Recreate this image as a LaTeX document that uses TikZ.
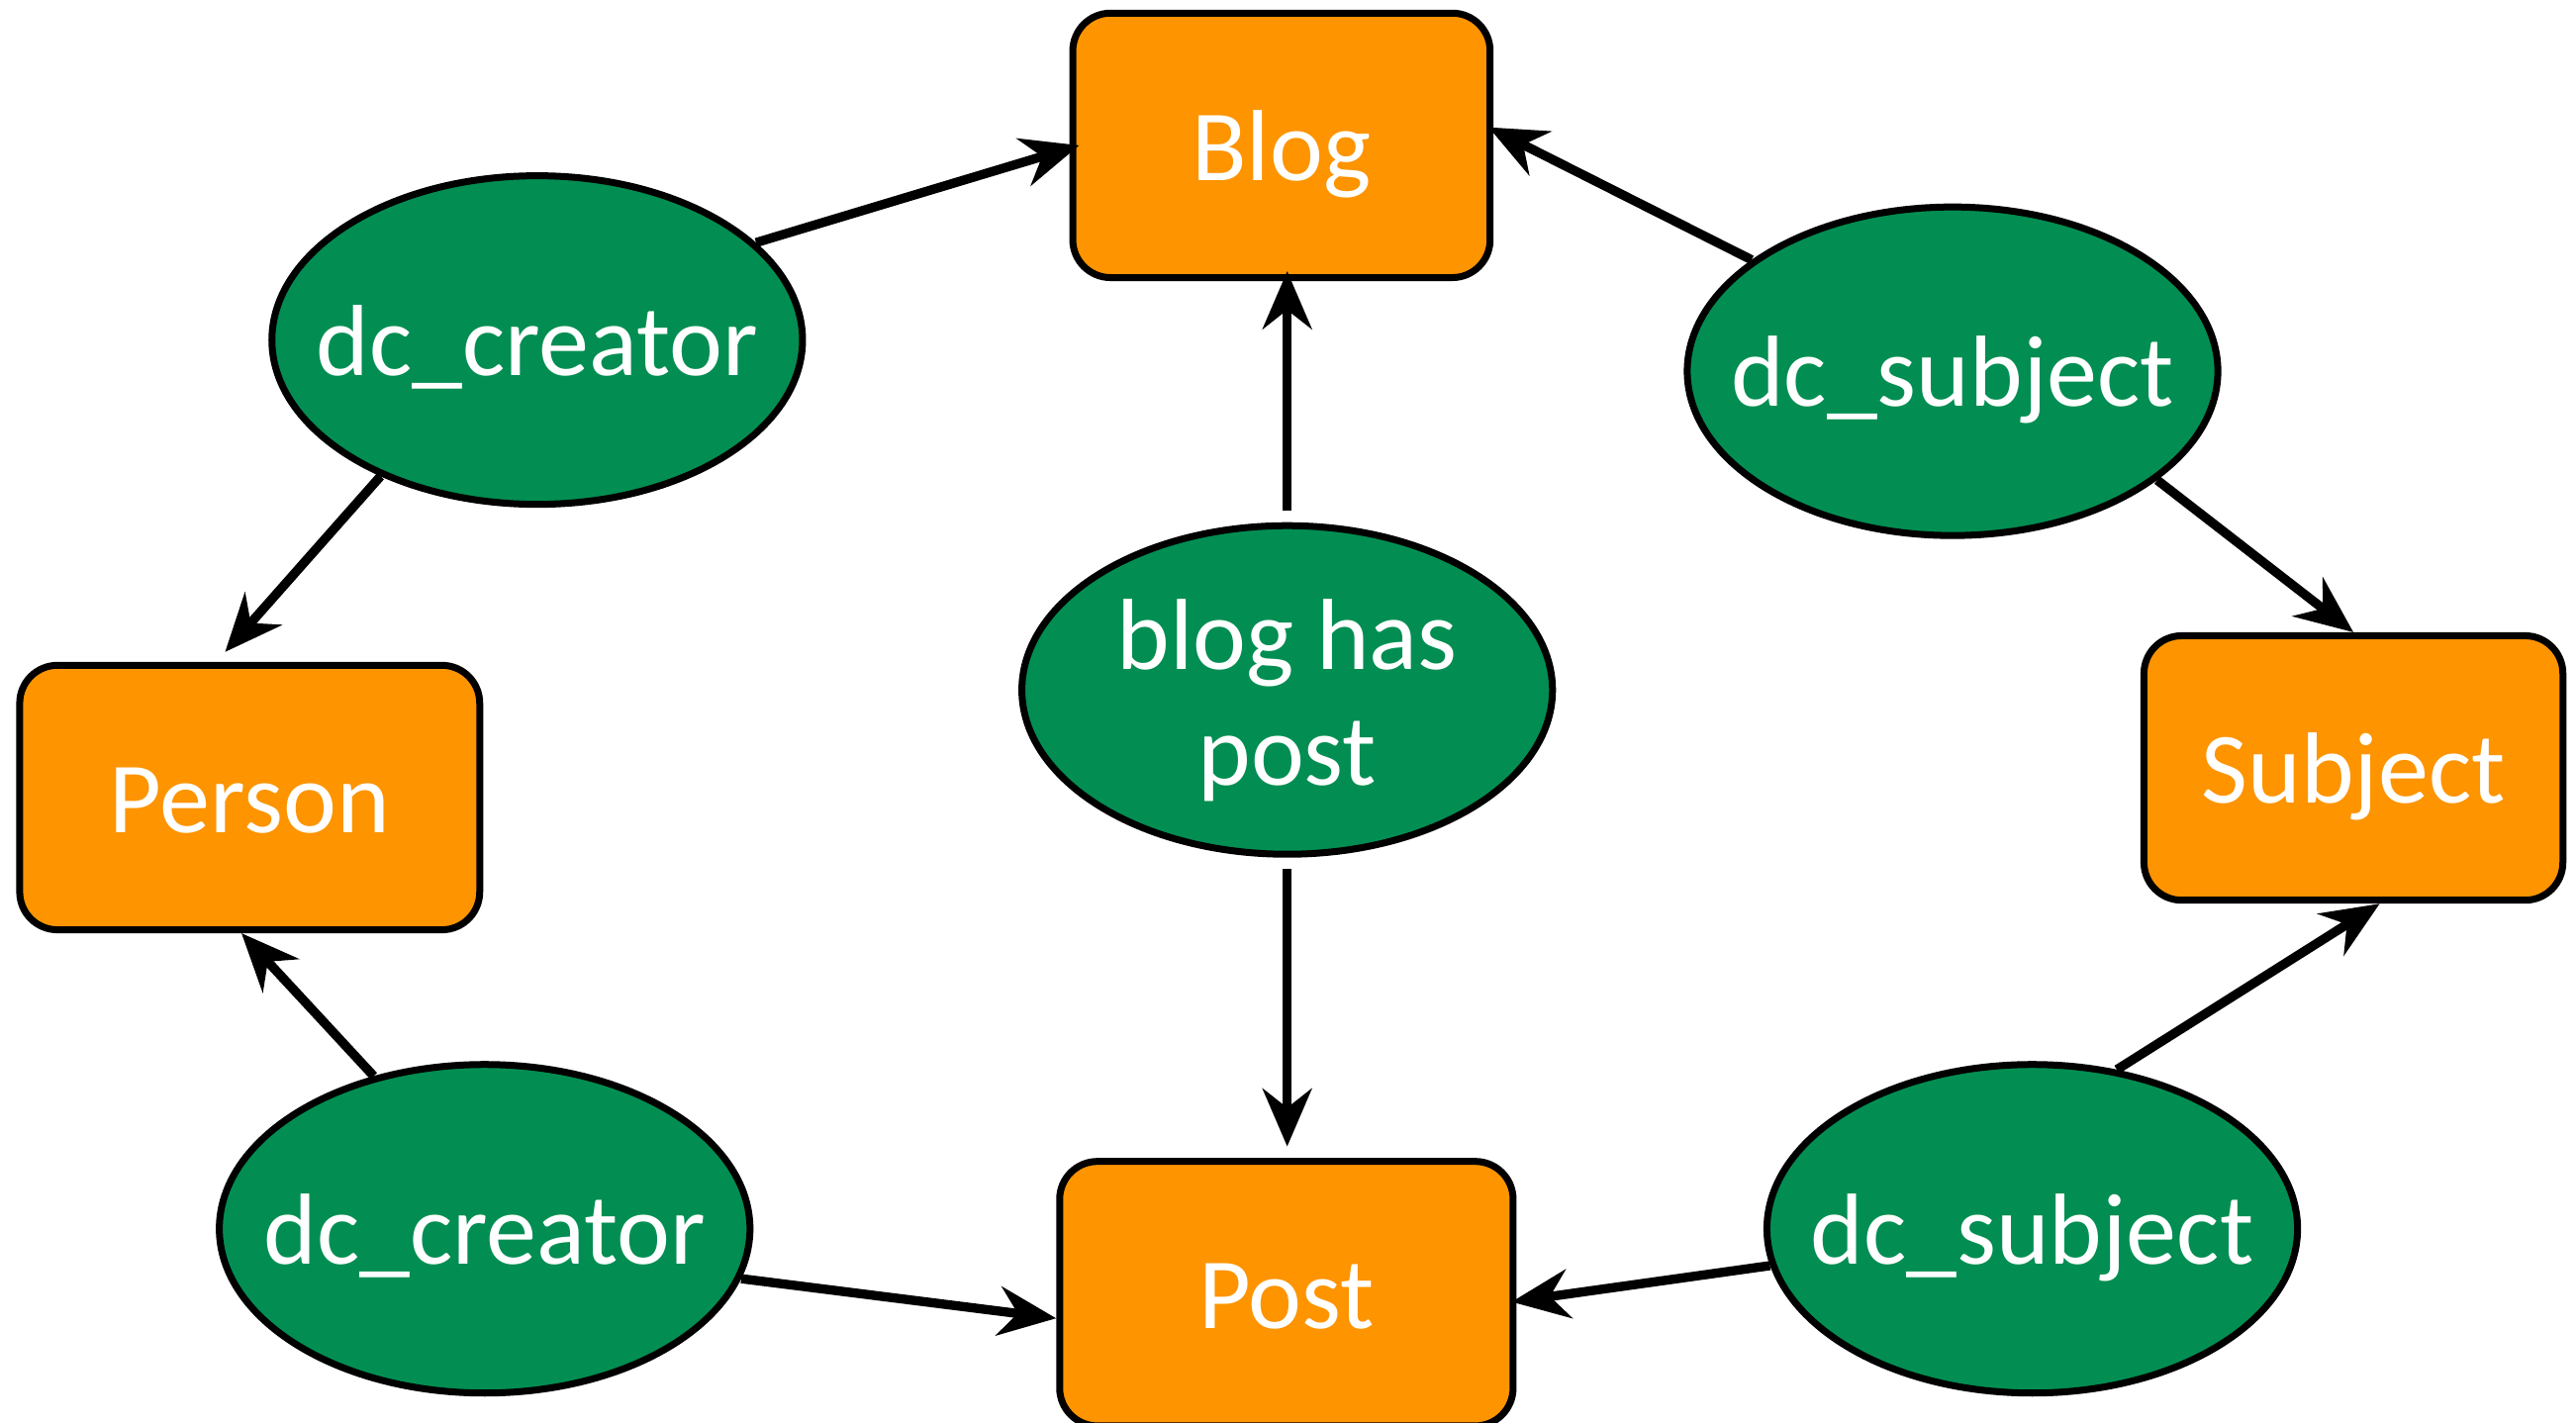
\documentclass[tikz,border=0pt]{standalone}
\usepackage{fontspec}
\setmainfont{Carlito}
\usetikzlibrary{shapes.geometric,arrows.meta}
\definecolor{boxorange}{HTML}{FD9400}
\definecolor{relgreen}{HTML}{028E52}
\newcommand{\fixw}[1]{\makebox[0pt]{#1}}

\begin{document}
\begin{tikzpicture}[
    every node/.style={text=white,font=\fontsize{17.5}{20}\selectfont},
    oneline/.style={text height=12.2pt,text depth=0pt},
    classbox/.style={draw,line width=1.2pt,fill=boxorange,rounded corners=0.23cm,
                     minimum height=1.61cm,inner sep=0pt,oneline},
    relation/.style={draw,line width=1.2pt,fill=relgreen,ellipse,
                     minimum width=3.23cm,minimum height=2cm,inner sep=0pt},
    link/.style={line width=1.6pt,-{Stealth[length=10pt,width=8.5pt,inset=3.3pt]}}]

\useasboundingbox (0,0) rectangle (15.68,8.66);
\begin{scope}
\clip (0,0) rectangle (15.68,8.66);

% classes
\node[classbox,minimum width=2.54cm] (blog) at (7.80,7.775) {Blog};
\node[classbox,minimum width=2.80cm] (person) at (1.52,3.805) {Person};
\node[classbox,minimum width=2.55cm] (subject) at (14.325,3.985) {Subject};
\node[classbox,minimum width=2.76cm] (post) at (7.83,0.785) {Post};

% relations
\node[relation,oneline] (cre1) at (3.27,6.59) {\fixw{dc\_creator}};
\node[relation,oneline] (sub1) at (11.885,6.40) {\fixw{dc\_subject}};
\node[relation,text height=33pt,text depth=0pt] (has) at (7.835,4.46)
    {\fixw{\begin{tabular}[b]{@{}c@{}}blog has\\post\end{tabular}}};
\node[relation,oneline] (cre2) at (2.95,1.18) {\fixw{dc\_creator}};
\node[relation,oneline] (sub2) at (12.37,1.18) {\fixw{dc\_subject}};

% links
\draw[link] (cre1.24) -- ([xshift=0.6mm]blog.west);
\draw[link] (cre1.221) -- ([xshift=-1.5mm,yshift=0.6mm]person.north);
\draw[link] ([yshift=0.7mm]has.north) -- ([yshift=0.6mm]has.north |- blog.south);
\draw[link] ([yshift=-0.7mm]has.south) -- ([yshift=0.7mm]has.south |- post.north);
\draw[link] (sub1.151) -- ([xshift=-0.3mm,yshift=1.1mm]blog.east);
\draw[link] (sub1.332) -- (subject.north);
\draw[link] (cre2.126) -- ([xshift=-0.5mm]person.south);
\draw[link] (cre2.349) -- ([yshift=-1.5mm]post.west);
\draw[link] (sub2.62) -- ([xshift=1.6mm]subject.south);
\draw[link] (sub2.188) -- ([xshift=-0.3mm,yshift=-0.5mm]post.east);
\end{scope}

\end{tikzpicture}
\end{document}
